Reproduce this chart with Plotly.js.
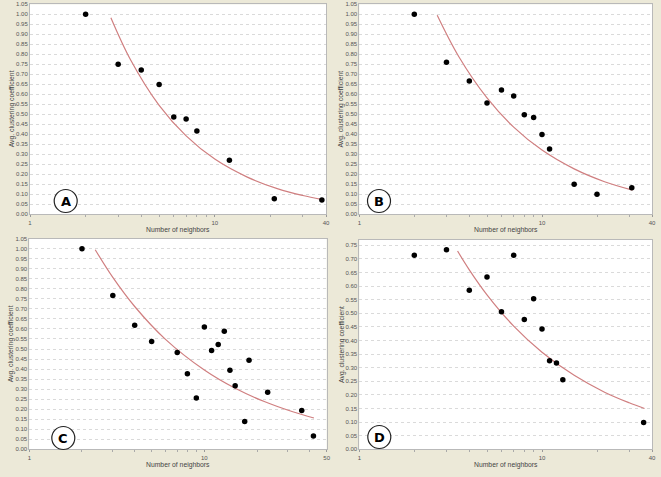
<!DOCTYPE html>
<html>
<head>
<meta charset="utf-8">
<script src="https://cdn.plot.ly/plotly-3.0.1.min.js"></script>
<style>
  html, body { margin: 0; padding: 0; background: #ece9d8; }
  #chart { width: 661px; height: 477px; }
</style>
</head>
<body>
<div id="chart"></div>
<script>
// panel A
const xA = [2, 3, 4, 5, 6, 7, 8, 12, 21, 38];
const yA = [1.00, 0.75, 0.722, 0.649, 0.486, 0.476, 0.416, 0.270, 0.078, 0.072];
const fitXA = [2.74, 3.5, 5, 7, 10, 15, 22, 30, 37.7];
const fitYA = [0.983, 0.773, 0.545, 0.392, 0.276, 0.186, 0.127, 0.094, 0.075];

// panel B
const xB = [2, 3, 4, 5, 6, 7, 8, 9, 10, 11, 15, 20, 31];
const yB = [1.00, 0.760, 0.666, 0.557, 0.621, 0.592, 0.498, 0.484, 0.399, 0.326, 0.150, 0.100, 0.133];
const fitXB = [2.67, 3.5, 5, 7, 10, 15, 22, 31.3];
const fitYB = [0.995, 0.789, 0.582, 0.436, 0.321, 0.227, 0.163, 0.121];

// panel C
const xC = [2, 3, 4, 5, 7, 8, 9, 10, 11, 12, 13, 14, 15, 17, 18, 23, 36, 42];
const yC = [1.00, 0.767, 0.618, 0.537, 0.483, 0.377, 0.256, 0.610, 0.493, 0.522, 0.588, 0.394, 0.317, 0.138, 0.444, 0.284, 0.193, 0.066];
const fitXC = [2.38, 3, 4, 6, 10, 15, 22, 32, 42.3];
const fitYC = [0.995, 0.857, 0.712, 0.548, 0.395, 0.304, 0.238, 0.187, 0.156];

// panel D
const xD = [2, 3, 4, 5, 6, 7, 8, 9, 10, 11, 12, 13, 36];
const yD = [0.714, 0.734, 0.585, 0.634, 0.506, 0.714, 0.477, 0.554, 0.442, 0.326, 0.317, 0.256, 0.099];
const fitXD = [3.45, 4, 5, 7, 10, 15, 22, 30, 36.4];
const fitYD = [0.729, 0.660, 0.568, 0.453, 0.357, 0.272, 0.210, 0.171, 0.150];

const panelLetters = ['A', 'B', 'C', 'D'];
const xMax = [40, 40, 50, 40];
const yMax = [1.05, 1.05, 1.05, 0.77];

const panels = [
  {x: xA, y: yA, fx: fitXA, fy: fitYA},
  {x: xB, y: yB, fx: fitXB, fy: fitYB},
  {x: xC, y: yC, fx: fitXC, fy: fitYC},
  {x: xD, y: yD, fx: fitXD, fy: fitYD}
];

// plot areas in pixels: [left, right, top, bottom]
const boxes = [
  [30, 326, 4.3, 214.3],
  [359.3, 652, 4.3, 214.3],
  [29.3, 326.7, 238.7, 449.3],
  [359.3, 652, 239.9, 449.3]
];
const circles = [[65.7, 201], [379, 201], [63.3, 438], [379.3, 437]];

const W = 661, H = 477;
const tickFont = {family: 'Liberation Sans, Arial, sans-serif', size: 6, color: '#555'};
const titleFont = {family: 'Liberation Sans, Arial, sans-serif', size: 6.8, color: '#444'};

const traces = [];
const layout = {
  width: W, height: H,
  margin: {l: 0, r: 0, t: 0, b: 0},
  paper_bgcolor: '#ece9d8',
  plot_bgcolor: '#ffffff',
  showlegend: false,
  annotations: [],
  shapes: []
};

panels.forEach((p, i) => {
  const n = i + 1;
  const xa = 'x' + (n === 1 ? '' : n), ya = 'y' + (n === 1 ? '' : n);
  const b = boxes[i];
  traces.push({
    x: p.fx, y: p.fy, xaxis: xa, yaxis: ya,
    mode: 'lines', type: 'scatter',
    line: {color: '#d07f80', width: 1.2, shape: 'spline'},
    hoverinfo: 'skip'
  });
  traces.push({
    x: p.x, y: p.y, xaxis: xa, yaxis: ya,
    mode: 'markers', type: 'scatter',
    marker: {color: '#000', size: 5.5}
  });

  const yticks = [];
  for (let k = 0; k * 0.05 <= yMax[i] + 1e-9; k++) yticks.push(+(k * 0.05).toFixed(2));

  layout['xaxis' + (n === 1 ? '' : n)] = {
    type: 'log',
    domain: [b[0] / W, b[1] / W],
    anchor: ya,
    range: [0, Math.log10(xMax[i])],
    tickmode: 'array',
    tickvals: [1, 10, xMax[i]],
    ticktext: ['1', '10', String(xMax[i])],
    ticks: 'outside', ticklen: 2, tickcolor: '#999',
    minor: {tickmode: 'array', tickvals: [2, 3, 4, 5, 6, 7, 8, 9, 20, 30, 40].filter(v => v < xMax[i]), ticks: 'outside', ticklen: 2, tickcolor: '#aaa', showgrid: false},
    showgrid: false, zeroline: false,
    showline: true, mirror: true, linecolor: '#b9b9b9', linewidth: 1,
    tickfont: tickFont
  };
  layout['yaxis' + (n === 1 ? '' : n)] = {
    domain: [(H - b[3]) / H, (H - b[2]) / H],
    anchor: xa,
    range: [0, yMax[i]],
    tickmode: 'array',
    tickvals: yticks,
    ticktext: yticks.map(v => v.toFixed(2)),
    ticks: '', ticklen: 0,
    showgrid: true, gridcolor: '#dadada', griddash: 'dot', gridwidth: 1,
    zeroline: false,
    showline: true, mirror: true, linecolor: '#b9b9b9', linewidth: 1,
    tickfont: tickFont
  };

  // axis titles
  layout.annotations.push({
    xref: 'paper', yref: 'paper',
    x: (b[0] + b[1]) / 2 / W, y: (H - (b[3] + 16)) / H,
    text: 'Number of neighbors', showarrow: false,
    font: titleFont, xanchor: 'center', yanchor: 'middle'
  });
  layout.annotations.push({
    xref: 'paper', yref: 'paper',
    x: (b[0] - 18) / W, y: (H - (b[2] + b[3]) / 2) / H,
    text: 'Avg. clustering coefficient', showarrow: false, textangle: -90,
    font: titleFont, xanchor: 'center', yanchor: 'middle'
  });

  // circled panel letter
  const c = circles[i];
  layout.shapes.push({
    type: 'circle', xref: 'paper', yref: 'paper',
    xsizemode: 'pixel', ysizemode: 'pixel',
    xanchor: c[0] / W, yanchor: (H - c[1]) / H,
    x0: -11.5, x1: 11.5, y0: -11.5, y1: 11.5,
    line: {color: '#222', width: 1.2}, fillcolor: '#fff'
  });
  layout.annotations.push({
    xref: 'paper', yref: 'paper',
    x: c[0] / W, y: (H - c[1]) / H,
    text: '<b>' + panelLetters[i] + '</b>', showarrow: false,
    font: {family: 'DejaVu Sans, Arial, sans-serif', size: 13, color: '#000'},
    xanchor: 'center', yanchor: 'middle'
  });
});

Plotly.newPlot('chart', traces, layout, {displayModeBar: false, staticPlot: true});
</script>
</body>
</html>
